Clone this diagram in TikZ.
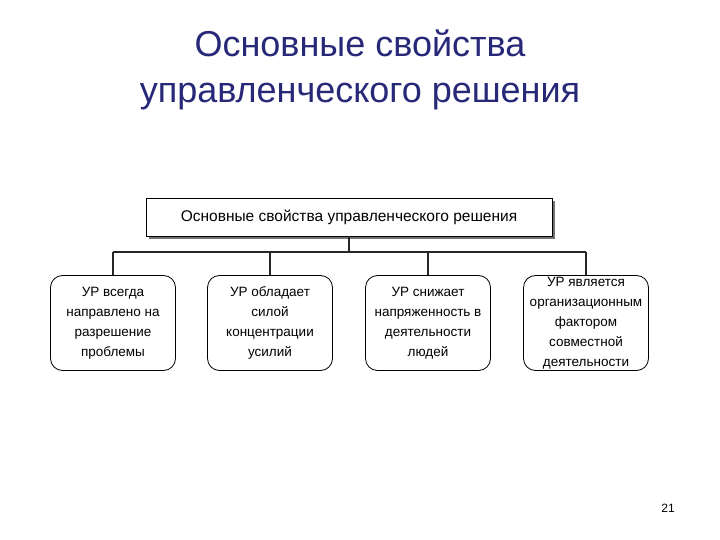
\documentclass[tikz,border=0pt]{standalone}
\usepackage{fontspec}
\setmainfont{Liberation Sans}
\begin{document}
\begin{tikzpicture}[x=1pt,y=-1pt,
  title/.style={font=\fontsize{36}{46}\selectfont, align=center, text=titleblue},
  topbox/.style={draw=black, line width=0.9pt, fill=white, minimum width=406pt, minimum height=38pt, font=\fontsize{15.5}{18}\selectfont},
  propbox/.style={draw=black, line width=0.8pt, rounded corners=12pt, minimum width=125pt, minimum height=95pt, align=center, font=\fontsize{13.5}{20}\selectfont, inner sep=1pt},
  conn/.style={draw=black!85, line width=1.1pt}]
\definecolor{titleblue}{RGB}{40,40,120}
\useasboundingbox (0,0) rectangle (720,540);
\fill[white] (0,0) rectangle (720,540);
% title
\node[title] (title) at (360,70) {Основные свойства\\управленческого решения};
% top box with shadow
\fill[black!55] (149,201) rectangle (555,239);
\node[topbox] (top) at (349,217) {Основные свойства управленческого решения};
% boxes
\node[propbox] (b1) at (113,323) {УР всегда\\направлено на\\разрешение\\проблемы};
\node[propbox] (b2) at (270,323) {УР обладает\\силой\\концентрации\\усилий};
\node[propbox] (b3) at (428,323) {УР снижает\\напряженность в\\деятельности\\людей};
\node[propbox] (b4) at (586,323) {УР является\\организационным\\фактором\\совместной\\деятельности};
% connectors
\coordinate (hl) at (113,252);
\coordinate (hr) at (586,252);
\coordinate (hm) at (349,252);
\draw[conn] (hl) -- (hr);
\draw[conn] (top.south) -- (hm);
\draw[conn] (b1.north |- hl) -- (b1.north);
\draw[conn] (b2.north |- hl) -- (b2.north);
\draw[conn] (b3.north |- hl) -- (b3.north);
\draw[conn] (b4.north |- hr) -- (b4.north);
% page number
\node[font=\fontsize{12}{14}\selectfont] (pg) at (668,508) {21};
\end{tikzpicture}
\end{document}
